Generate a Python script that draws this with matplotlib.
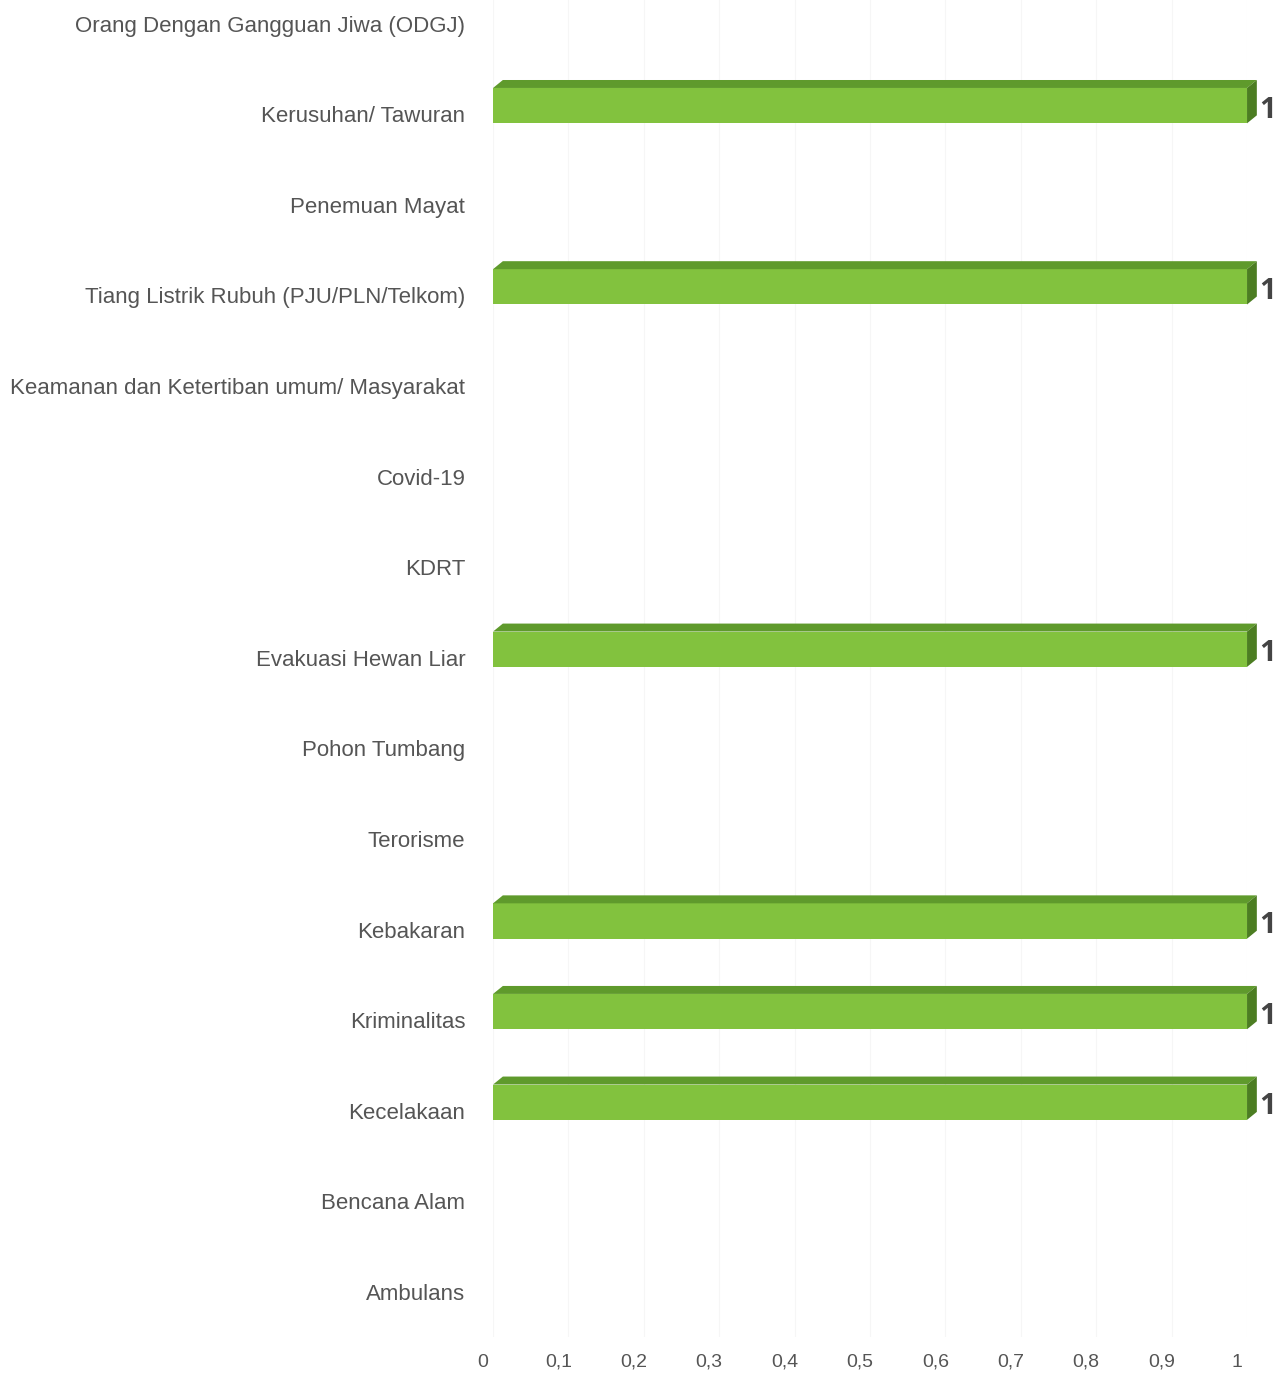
import matplotlib
matplotlib.use("Agg")
import matplotlib.pyplot as plt
from matplotlib.patches import Polygon, Rectangle
from matplotlib.transforms import ScaledTranslation

categories = [
    "Ambulans",
    "Bencana Alam",
    "Kecelakaan",
    "Kriminalitas",
    "Kebakaran",
    "Terorisme",
    "Pohon Tumbang",
    "Evakuasi Hewan Liar",
    "KDRT",
    "Covid-19",
    "Keamanan dan Ketertiban umum/ Masyarakat",
    "Tiang Listrik Rubuh (PJU/PLN/Telkom)",
    "Penemuan Mayat",
    "Kerusuhan/ Tawuran",
    "Orang Dengan Gangguan Jiwa (ODGJ)",
]
values = [0, 0, 1, 1, 1, 0, 0, 1, 0, 0, 0, 1, 0, 1, 0]
xticks = [0, 0.1, 0.2, 0.3, 0.4, 0.5, 0.6, 0.7, 0.8, 0.9, 1]
xtick_labels = ["0", "0,1", "0,2", "0,3", "0,4", "0,5", "0,6", "0,7", "0,8", "0,9", "1"]

FRONT = "#82c23e"
TOP = "#5f9a2c"
SIDE = "#4c7d22"
TEXT = "#555555"

fig = plt.figure(figsize=(12.86, 13.76), dpi=100)
ax = fig.add_axes([0.3834, 0.0282, 0.5863, 0.9718])
ax.set_xlim(0, 1)
ax.set_ylim(-0.5, 14.26)

for s in ax.spines.values():
    s.set_visible(False)

ax.set_xticks(xticks)
ax.set_xticklabels(xtick_labels, fontsize=14, color=TEXT, family="Liberation Sans")
ax.tick_params(axis="x", length=0, pad=12)
off = ScaledTranslation(-10 / 100, 0, fig.dpi_scale_trans)
for lab in ax.get_xticklabels():
    lab.set_transform(lab.get_transform() + off)

ax.set_yticks(range(len(categories)))
ax.set_yticklabels(categories, fontsize=16, color=TEXT, family="Liberation Sans")
ax.tick_params(axis="y", length=0, pad=20)

ax.grid(axis="x", color="#f6f6f6", linewidth=0.8)
ax.set_axisbelow(True)

h = 0.39
shift = 0.094
dx = 0.013
dy = 0.088
for i, v in enumerate(values):
    if v <= 0:
        continue
    yc = i + shift
    bot, top = yc - h / 2, yc + h / 2
    ax.add_patch(Rectangle((0, bot), v, h, facecolor=FRONT, edgecolor="none", zorder=3))
    ax.add_patch(Polygon([(0, top), (v, top), (v + dx, top + dy), (dx, top + dy)],
                         closed=True, facecolor=TOP, edgecolor="none", zorder=3, clip_on=False))
    ax.add_patch(Polygon([(v, bot), (v, top), (v + dx, top + dy), (v + dx, bot + dy)],
                         closed=True, facecolor=SIDE, edgecolor="none", zorder=3, clip_on=False))
    ax.text(v + dx + 0.003, yc - 0.05, f"{v:g}", fontsize=21, fontweight="bold",
            color="#444444", family="Open Sans", va="center", ha="left", clip_on=False)

fig.savefig("out.png", dpi=100, facecolor="white")
